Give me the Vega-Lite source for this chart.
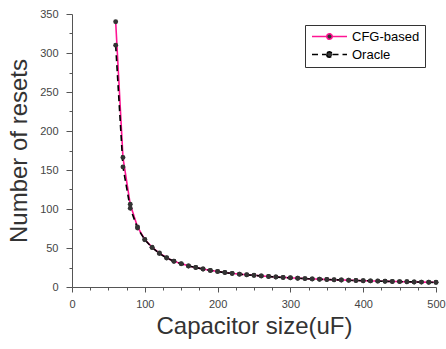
{
  "$schema": "https://vega.github.io/schema/vega-lite/v6.json",
  "width": 364,
  "height": 273,
  "autosize": "none",
  "padding": {"left": 72, "top": 14, "right": 10, "bottom": 62},
  "background": "white",
  "config": {
    "view": {"stroke": null},
    "font": "Liberation Sans",
    "axis": {"domainColor": "#555555", "tickColor": "#555555", "labelColor": "#444444", "labelFontSize": 11, "titleColor": "#333333", "titleFontSize": 24, "titleFontWeight": "normal", "grid": false, "domainWidth": 1, "tickWidth": 1, "labelFlush": false, "labelOverlap": false},
    "legend": {"symbolOffset": 13}
  },
  "data": {"values": [
    {"x": 60, "series": "CFG-based", "y": 340},
    {"x": 70, "series": "CFG-based", "y": 166},
    {"x": 80, "series": "CFG-based", "y": 106},
    {"x": 90, "series": "CFG-based", "y": 77},
    {"x": 100, "series": "CFG-based", "y": 61},
    {"x": 110, "series": "CFG-based", "y": 51},
    {"x": 120, "series": "CFG-based", "y": 43.5},
    {"x": 130, "series": "CFG-based", "y": 37.5},
    {"x": 140, "series": "CFG-based", "y": 33},
    {"x": 150, "series": "CFG-based", "y": 30},
    {"x": 160, "series": "CFG-based", "y": 27},
    {"x": 170, "series": "CFG-based", "y": 25},
    {"x": 180, "series": "CFG-based", "y": 23},
    {"x": 190, "series": "CFG-based", "y": 21.3},
    {"x": 200, "series": "CFG-based", "y": 20},
    {"x": 210, "series": "CFG-based", "y": 18.5},
    {"x": 220, "series": "CFG-based", "y": 17.5},
    {"x": 230, "series": "CFG-based", "y": 16.5},
    {"x": 240, "series": "CFG-based", "y": 15.7},
    {"x": 250, "series": "CFG-based", "y": 15},
    {"x": 260, "series": "CFG-based", "y": 14.2},
    {"x": 270, "series": "CFG-based", "y": 13.5},
    {"x": 280, "series": "CFG-based", "y": 12.9},
    {"x": 290, "series": "CFG-based", "y": 12.3},
    {"x": 300, "series": "CFG-based", "y": 11.8},
    {"x": 310, "series": "CFG-based", "y": 11.3},
    {"x": 320, "series": "CFG-based", "y": 10.8},
    {"x": 330, "series": "CFG-based", "y": 10.4},
    {"x": 340, "series": "CFG-based", "y": 10},
    {"x": 350, "series": "CFG-based", "y": 9.6},
    {"x": 360, "series": "CFG-based", "y": 9.3},
    {"x": 370, "series": "CFG-based", "y": 9},
    {"x": 380, "series": "CFG-based", "y": 8.7},
    {"x": 390, "series": "CFG-based", "y": 8.4},
    {"x": 400, "series": "CFG-based", "y": 8.1},
    {"x": 410, "series": "CFG-based", "y": 7.8},
    {"x": 420, "series": "CFG-based", "y": 7.6},
    {"x": 430, "series": "CFG-based", "y": 7.3},
    {"x": 440, "series": "CFG-based", "y": 7.1},
    {"x": 450, "series": "CFG-based", "y": 6.9},
    {"x": 460, "series": "CFG-based", "y": 6.7},
    {"x": 470, "series": "CFG-based", "y": 6.5},
    {"x": 480, "series": "CFG-based", "y": 6.3},
    {"x": 490, "series": "CFG-based", "y": 6.1},
    {"x": 500, "series": "CFG-based", "y": 6},
    {"x": 60, "series": "Oracle", "y": 310},
    {"x": 70, "series": "Oracle", "y": 154},
    {"x": 80, "series": "Oracle", "y": 101},
    {"x": 90, "series": "Oracle", "y": 75.5},
    {"x": 100, "series": "Oracle", "y": 60.5},
    {"x": 110, "series": "Oracle", "y": 50.5},
    {"x": 120, "series": "Oracle", "y": 43},
    {"x": 130, "series": "Oracle", "y": 37.2},
    {"x": 140, "series": "Oracle", "y": 33},
    {"x": 150, "series": "Oracle", "y": 29.7},
    {"x": 160, "series": "Oracle", "y": 27},
    {"x": 170, "series": "Oracle", "y": 25},
    {"x": 180, "series": "Oracle", "y": 23},
    {"x": 190, "series": "Oracle", "y": 21.2},
    {"x": 200, "series": "Oracle", "y": 19.8},
    {"x": 210, "series": "Oracle", "y": 18.5},
    {"x": 220, "series": "Oracle", "y": 17.4},
    {"x": 230, "series": "Oracle", "y": 16.4},
    {"x": 240, "series": "Oracle", "y": 15.6},
    {"x": 250, "series": "Oracle", "y": 14.9},
    {"x": 260, "series": "Oracle", "y": 14.1},
    {"x": 270, "series": "Oracle", "y": 13.4},
    {"x": 280, "series": "Oracle", "y": 12.8},
    {"x": 290, "series": "Oracle", "y": 12.2},
    {"x": 300, "series": "Oracle", "y": 11.7},
    {"x": 310, "series": "Oracle", "y": 11.2},
    {"x": 320, "series": "Oracle", "y": 10.8},
    {"x": 330, "series": "Oracle", "y": 10.3},
    {"x": 340, "series": "Oracle", "y": 10},
    {"x": 350, "series": "Oracle", "y": 9.6},
    {"x": 360, "series": "Oracle", "y": 9.2},
    {"x": 370, "series": "Oracle", "y": 8.9},
    {"x": 380, "series": "Oracle", "y": 8.6},
    {"x": 390, "series": "Oracle", "y": 8.3},
    {"x": 400, "series": "Oracle", "y": 8.1},
    {"x": 410, "series": "Oracle", "y": 7.8},
    {"x": 420, "series": "Oracle", "y": 7.5},
    {"x": 430, "series": "Oracle", "y": 7.3},
    {"x": 440, "series": "Oracle", "y": 7.1},
    {"x": 450, "series": "Oracle", "y": 6.9},
    {"x": 460, "series": "Oracle", "y": 6.7},
    {"x": 470, "series": "Oracle", "y": 6.5},
    {"x": 480, "series": "Oracle", "y": 6.3},
    {"x": 490, "series": "Oracle", "y": 6.1},
    {"x": 500, "series": "Oracle", "y": 5.9}
  ]},
  "layer": [
    {
      "mark": {"type": "line", "strokeWidth": 1.6},
      "encoding": {
        "x": {"field": "x", "type": "quantitative", "scale": {"domain": [0, 500], "nice": false},
              "axis": {"orient": "bottom", "values": [0, 100, 200, 300, 400, 500], "tickSize": 5, "labelPadding": 6, "title": "Capacitor size(uF)", "titlePadding": 5}},
        "y": {"field": "y", "type": "quantitative", "scale": {"domain": [0, 350], "nice": false},
              "axis": {"orient": "left", "values": [0, 50, 100, 150, 200, 250, 300, 350], "tickSize": 6, "labelPadding": 8, "title": "Number of resets", "titlePadding": 8}},
        "color": {"field": "series", "type": "nominal", "scale": {"domain": ["CFG-based", "Oracle"], "range": ["#ff1493", "#000000"]},
                  "legend": {"title": null, "orient": "top-right", "offset": 11, "padding": 5, "strokeColor": "#333333", "fillColor": "white", "labelFontSize": 13, "labelColor": "#000000", "symbolType": "M-3.5,0H-0.6M0.6,0H3.5M-0.55,0a0.55,0.55 0 1,0 1.1,0a0.55,0.55 0 1,0 -1.1,0", "symbolSize": 100, "symbolStrokeWidth": 1.5, "rowPadding": 4, "labelOffset": 16,
                             "encode": {"symbols": {"update": {"fill": {"value": "#333333"}}}}}},
        "strokeDash": {"field": "series", "type": "nominal", "scale": {"domain": ["CFG-based", "Oracle"], "range": [[1, 0], [6, 4]]},
                  "legend": {"title": null, "orient": "top-right", "offset": 11, "padding": 5, "strokeColor": "#333333", "fillColor": "white", "labelFontSize": 13, "labelColor": "#000000", "symbolType": "M-3.5,0H-0.6M0.6,0H3.5M-0.55,0a0.55,0.55 0 1,0 1.1,0a0.55,0.55 0 1,0 -1.1,0", "symbolSize": 100, "symbolStrokeWidth": 1.5, "rowPadding": 4, "labelOffset": 16,
                             "encode": {"symbols": {"update": {"fill": {"value": "#333333"}}}}}}
      }
    },
    {
      "mark": {"type": "point", "filled": true, "color": "#333333", "size": 24, "opacity": 1},
      "encoding": {
        "x": {"field": "x", "type": "quantitative", "scale": {"domain": [0, 500], "nice": false},
              "axis": {"orient": "bottom", "values": [25, 50, 75, 125, 150, 175, 225, 250, 275, 325, 350, 375, 425, 450, 475], "tickSize": 3, "labels": false, "domain": false, "title": null}},
        "y": {"field": "y", "type": "quantitative", "scale": {"domain": [0, 350], "nice": false},
              "axis": {"orient": "left", "values": [25, 75, 125, 175, 225, 275, 325], "tickSize": 3, "labels": false, "domain": false, "title": null}}
      }
    }
  ],
  "resolve": {"axis": {"x": "independent", "y": "independent"}}
}
